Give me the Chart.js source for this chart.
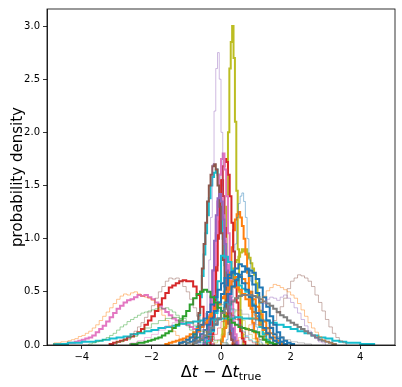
<!DOCTYPE html>
<html>
<head>
<meta charset="utf-8">
<script src="https://cdn.jsdelivr.net/npm/chart.js@4.4.0/dist/chart.umd.min.js"></script>
<style>
  html, body { margin: 0; padding: 0; background: #fff; }
  canvas { display: block; }
</style>
</head>
<body>
<canvas id="chart" width="402" height="387"></canvas>
<script>
// histogram data: lo = first bin edge, bin = bin width, y = densities
const xTicks = [-4, -2, 0, 2, 4];
const yTicks = [0, 0.5, 1.0, 1.5, 2.0, 2.5, 3.0];

// faint histograms
const lavender = { lo: -0.65, bin: 0.05, y: [0.02, 0.05, 0.1, 0.18, 0.3, 0.5, 0.8, 1.2, 1.7, 2.2, 2.6, 2.75, 2.5, 2.0, 1.4, 0.9, 0.55, 0.3, 0.15, 0.07, 0.03] };
const lightBlue = { lo: 0.15, bin: 0.05, y: [0.05, 0.12, 0.25, 0.45, 0.7, 0.95, 1.2, 1.33, 1.4, 1.43, 1.35, 1.2, 1.0, 0.8, 0.6, 0.42, 0.28, 0.17, 0.1, 0.05, 0.02] };
const lightOrangeL = { lo: -4.8, bin: 0.1, y: [0.02, 0.02, 0.03, 0.03, 0.04, 0.05, 0.06, 0.08, 0.09, 0.11, 0.13, 0.16, 0.19, 0.23, 0.27, 0.31, 0.35, 0.39, 0.43, 0.46, 0.48, 0.47, 0.49, 0.5, 0.48, 0.46, 0.45, 0.44, 0.42, 0.38, 0.33, 0.28, 0.23, 0.18, 0.13, 0.09, 0.06, 0.04, 0.02, 0.01] };
const lightOrangeR = { lo: 0.3, bin: 0.1, y: [0.02, 0.04, 0.07, 0.1, 0.14, 0.19, 0.25, 0.32, 0.4, 0.46, 0.51, 0.54, 0.57, 0.56, 0.54, 0.52, 0.5, 0.47, 0.44, 0.39, 0.33, 0.27, 0.21, 0.16, 0.12, 0.08, 0.05, 0.03, 0.02, 0.01] };
const lightBrownR = { lo: 1.0, bin: 0.1, y: [0.03, 0.05, 0.08, 0.12, 0.17, 0.23, 0.3, 0.36, 0.44, 0.53, 0.6, 0.63, 0.66, 0.65, 0.63, 0.6, 0.55, 0.47, 0.4, 0.32, 0.24, 0.17, 0.11, 0.07, 0.04, 0.02] };
const lightBrownL = { lo: -3.2, bin: 0.1, y: [0.01, 0.02, 0.03, 0.04, 0.06, 0.08, 0.1, 0.13, 0.17, 0.21, 0.26, 0.31, 0.37, 0.44, 0.5, 0.55, 0.6, 0.63, 0.62, 0.63, 0.6, 0.55, 0.5, 0.43, 0.35, 0.27, 0.19, 0.12, 0.07, 0.03] };
const lightPurple = { lo: 0.6, bin: 0.1, y: [0.05, 0.09, 0.14, 0.2, 0.27, 0.33, 0.39, 0.43, 0.45, 0.44, 0.42, 0.45, 0.47, 0.44, 0.4, 0.35, 0.3, 0.24, 0.18, 0.13, 0.09, 0.06, 0.03, 0.02] };
const lightGreenA = { lo: -3.8, bin: 0.1, y: [0.01, 0.02, 0.03, 0.04, 0.05, 0.07, 0.09, 0.11, 0.14, 0.17, 0.19, 0.22, 0.24, 0.26, 0.28, 0.3, 0.31, 0.32, 0.33, 0.34, 0.35, 0.34, 0.35, 0.33, 0.31, 0.28, 0.25, 0.22, 0.18, 0.14, 0.1, 0.07, 0.04, 0.02, 0.01] };
const lightGreenB = { lo: -3.0, bin: 0.2, y: [0.03, 0.05, 0.08, 0.12, 0.16, 0.2, 0.23, 0.25, 0.26, 0.25, 0.22, 0.18, 0.13, 0.08, 0.04, 0.02] };
const lightPink = { lo: -2.6, bin: 0.2, y: [0.02, 0.04, 0.07, 0.1, 0.14, 0.18, 0.21, 0.23, 0.22, 0.19, 0.14, 0.09, 0.05, 0.02] };
const lightGray = { lo: -1.0, bin: 0.2, y: [0.02, 0.05, 0.1, 0.17, 0.25, 0.31, 0.34, 0.33, 0.29, 0.24, 0.19, 0.15, 0.11, 0.08, 0.05, 0.03, 0.02, 0.01] };
const lightCyan = { lo: -0.6, bin: 0.1, y: [0.02, 0.05, 0.1, 0.17, 0.25, 0.32, 0.38, 0.4, 0.38, 0.33, 0.26, 0.19, 0.13, 0.08, 0.05, 0.03, 0.02] };
const lightRed = { lo: -0.4, bin: 0.1, y: [0.02, 0.05, 0.1, 0.16, 0.22, 0.27, 0.3, 0.28, 0.24, 0.18, 0.12, 0.07, 0.04, 0.02] };
const lightOlive = { lo: -0.2, bin: 0.1, y: [0.02, 0.05, 0.1, 0.17, 0.25, 0.3, 0.32, 0.29, 0.23, 0.16, 0.1, 0.06, 0.03, 0.01] };

// bold histograms
const gray = { lo: -0.8, bin: 0.1, y: [0.02, 0.04, 0.06, 0.09, 0.12, 0.16, 0.2, 0.25, 0.3, 0.34, 0.38, 0.41, 0.44, 0.46, 0.47, 0.47, 0.47, 0.46, 0.45, 0.43, 0.41, 0.39, 0.37, 0.34, 0.31, 0.28, 0.26, 0.23, 0.21, 0.19, 0.17, 0.15, 0.13, 0.11, 0.09, 0.07, 0.05, 0.04, 0.03, 0.02, 0.01] };
const green = { lo: -2.6, bin: 0.1, y: [0.01, 0.01, 0.02, 0.02, 0.03, 0.04, 0.05, 0.06, 0.07, 0.09, 0.11, 0.13, 0.16, 0.19, 0.23, 0.27, 0.32, 0.38, 0.44, 0.48, 0.5, 0.52, 0.5, 0.45, 0.4, 0.35, 0.31, 0.27, 0.24, 0.21, 0.19, 0.17, 0.16, 0.15, 0.14, 0.13, 0.12, 0.08, 0.05, 0.03, 0.02, 0.01] };
const blueA = { lo: -1.0, bin: 0.1, y: [0.02, 0.03, 0.05, 0.07, 0.1, 0.14, 0.19, 0.25, 0.32, 0.4, 0.48, 0.56, 0.63, 0.69, 0.72, 0.76, 0.74, 0.71, 0.65, 0.57, 0.49, 0.4, 0.31, 0.23, 0.16, 0.1, 0.06, 0.03, 0.01] };
const blueB = { lo: -0.8, bin: 0.1, y: [0.02, 0.03, 0.05, 0.07, 0.1, 0.14, 0.19, 0.25, 0.32, 0.4, 0.48, 0.55, 0.61, 0.66, 0.69, 0.72, 0.7, 0.68, 0.62, 0.54, 0.45, 0.36, 0.27, 0.19, 0.12, 0.07, 0.04, 0.02, 0.01] };
const blueC = { lo: -1.2, bin: 0.1, y: [0.02, 0.03, 0.05, 0.07, 0.1, 0.14, 0.19, 0.25, 0.31, 0.38, 0.45, 0.52, 0.58, 0.63, 0.66, 0.68, 0.67, 0.64, 0.58, 0.52, 0.45, 0.37, 0.3, 0.23, 0.16, 0.11, 0.07, 0.04, 0.02] };
const orangeB = { lo: -1.6, bin: 0.1, y: [0.01, 0.02, 0.03, 0.04, 0.05, 0.06, 0.08, 0.1, 0.12, 0.15, 0.18, 0.21, 0.24, 0.28, 0.33, 0.38, 0.44, 0.5, 0.55, 0.6, 0.64, 0.65, 0.62, 0.58, 0.5, 0.43, 0.36, 0.29, 0.22, 0.16, 0.11, 0.07, 0.04, 0.02, 0.01] };
const orangeC = { lo: -1.2, bin: 0.1, y: [0.02, 0.03, 0.05, 0.07, 0.1, 0.13, 0.17, 0.21, 0.26, 0.3, 0.35, 0.4, 0.45, 0.5, 0.53, 0.55, 0.54, 0.52, 0.48, 0.43, 0.37, 0.31, 0.25, 0.19, 0.14, 0.1, 0.06, 0.04, 0.02, 0.01] };
const cyanWide = { lo: -4.8, bin: 0.2, y: [0.01, 0.01, 0.02, 0.02, 0.03, 0.03, 0.04, 0.05, 0.06, 0.07, 0.08, 0.1, 0.11, 0.13, 0.14, 0.16, 0.17, 0.18, 0.2, 0.21, 0.22, 0.23, 0.24, 0.24, 0.25, 0.25, 0.26, 0.25, 0.25, 0.24, 0.23, 0.21, 0.19, 0.17, 0.15, 0.13, 0.11, 0.09, 0.07, 0.06, 0.04, 0.03, 0.02, 0.02, 0.01, 0.01] };
const cyanMid = { lo: -0.4, bin: 0.1, y: [0.04, 0.13, 0.3, 0.6, 0.84, 0.83, 0.78, 0.7, 0.63, 0.56, 0.53, 0.5, 0.46, 0.38, 0.27, 0.17, 0.1, 0.05, 0.02] };
const redWide = { lo: -3.2, bin: 0.1, y: [0.01, 0.02, 0.03, 0.04, 0.05, 0.07, 0.08, 0.1, 0.12, 0.15, 0.19, 0.23, 0.27, 0.32, 0.38, 0.44, 0.49, 0.54, 0.56, 0.58, 0.6, 0.61, 0.6, 0.6, 0.55, 0.47, 0.36, 0.2, 0.08] };
const pinkWide = { lo: -4.6, bin: 0.1, y: [0.01, 0.01, 0.02, 0.02, 0.03, 0.04, 0.05, 0.06, 0.07, 0.09, 0.12, 0.15, 0.18, 0.22, 0.26, 0.3, 0.34, 0.37, 0.4, 0.42, 0.43, 0.45, 0.47, 0.46, 0.47, 0.45, 0.43, 0.4, 0.37, 0.34, 0.31, 0.28, 0.25, 0.23, 0.21, 0.2, 0.19, 0.17, 0.15, 0.12, 0.08, 0.05, 0.03, 0.01] };
const purple = { lo: -0.5, bin: 0.05, y: [0.02, 0.05, 0.12, 0.25, 0.45, 0.7, 0.98, 1.22, 1.38, 1.42, 1.35, 1.18, 0.95, 0.7, 0.47, 0.28, 0.15, 0.07, 0.03] };
const brown = { lo: -0.8, bin: 0.05, y: [0.03, 0.07, 0.15, 0.3, 0.5, 0.72, 0.95, 1.15, 1.35, 1.5, 1.6, 1.68, 1.7, 1.65, 1.5, 1.3, 1.05, 0.8, 0.55, 0.35, 0.2, 0.1, 0.05, 0.02] };
const pinkA = { lo: -0.45, bin: 0.05, y: [0.03, 0.07, 0.15, 0.28, 0.48, 0.75, 1.05, 1.35, 1.6, 1.75, 1.8, 1.65, 1.4, 1.05, 0.7, 0.42, 0.22, 0.1, 0.04] };
const pinkB = { lo: -0.5, bin: 0.05, y: [0.03, 0.07, 0.15, 0.28, 0.46, 0.7, 0.95, 1.18, 1.35, 1.42, 1.38, 1.22, 1.0, 0.75, 0.5, 0.3, 0.16, 0.08, 0.03] };
const redA = { lo: -0.4, bin: 0.05, y: [0.03, 0.07, 0.15, 0.3, 0.5, 0.75, 1.05, 1.35, 1.55, 1.68, 1.75, 1.72, 1.6, 1.4, 1.15, 0.88, 0.62, 0.4, 0.24, 0.13, 0.06, 0.03] };
const redB = { lo: -0.3, bin: 0.04, y: [0.04, 0.1, 0.22, 0.42, 0.7, 1.0, 1.3, 1.5, 1.55, 1.4, 1.1, 0.75, 0.45, 0.24, 0.11, 0.05] };
const cyanA = { lo: -0.8, bin: 0.05, y: [0.04, 0.09, 0.17, 0.28, 0.45, 0.65, 0.85, 1.05, 1.22, 1.38, 1.5, 1.58, 1.62, 1.65, 1.6, 1.45, 1.25, 1.0, 0.75, 0.52, 0.33, 0.2, 0.11, 0.05, 0.02] };
const orangeA = { lo: 0.0, bin: 0.05, y: [0.03, 0.08, 0.16, 0.3, 0.5, 0.72, 0.92, 1.08, 1.18, 1.23, 1.25, 1.2, 1.12, 1.0, 0.85, 0.68, 0.5, 0.34, 0.21, 0.12, 0.06] };
const oliveB = { lo: 0.0, bin: 0.05, y: [0.05, 0.1, 0.17, 0.26, 0.37, 0.5, 0.62, 0.72, 0.78, 0.8, 0.83, 0.87, 0.9, 0.88, 0.9, 0.86, 0.82, 0.77, 0.72, 0.66, 0.58, 0.45, 0.32, 0.2, 0.11, 0.05, 0.02] };
const oliveA = { lo: 0.0, bin: 0.04, y: [0.05, 0.15, 0.35, 0.75, 1.3, 2.0, 2.6, 2.85, 3.0, 2.7, 2.1, 1.45, 0.9, 0.5, 0.25, 0.1] };

// [histogram, colour, alpha, line width] in drawing order
const styles = [
  [lightGreenA, '#2ca02c', 0.45, 1], [lightGreenB, '#2ca02c', 0.45, 1],
  [lightPink, '#e377c2', 0.45, 1], [lightGray, '#7f7f7f', 0.45, 1],
  [lightCyan, '#17becf', 0.45, 1], [lightRed, '#d62728', 0.45, 1],
  [lightOlive, '#bcbd22', 0.45, 1],
  [lightOrangeL, '#ff7f0e', 0.45, 1], [lightOrangeR, '#ff7f0e', 0.45, 1],
  [lightBrownL, '#8c564b', 0.45, 1], [lightBrownR, '#8c564b', 0.45, 1],
  [lightPurple, '#9467bd', 0.45, 1], [lightBlue, '#1f77b4', 0.45, 1],
  [lavender, '#9467bd', 0.45, 1],
  [gray, '#7f7f7f', 1, 2], [green, '#2ca02c', 1, 2],
  [blueC, '#1f77b4', 1, 2], [blueA, '#1f77b4', 1, 2], [blueB, '#1f77b4', 1, 2],
  [orangeC, '#ff7f0e', 1, 2], [orangeB, '#ff7f0e', 1, 2],
  [cyanWide, '#17becf', 1, 2], [cyanMid, '#17becf', 1, 2],
  [redWide, '#d62728', 1, 2], [pinkWide, '#e377c2', 1, 2],
  [purple, '#9467bd', 1, 2], [brown, '#8c564b', 1, 2],
  [pinkB, '#e377c2', 1, 2], [pinkA, '#e377c2', 1, 2],
  [redB, '#d62728', 1, 2], [redA, '#d62728', 1, 2],
  [cyanA, '#17becf', 1, 2], [orangeA, '#ff7f0e', 1, 2],
  [oliveB, '#bcbd22', 1, 2], [oliveA, '#bcbd22', 1, 2]
];

function hexA(hex, a) {
  const n = parseInt(hex.slice(1), 16);
  return 'rgba(' + (n >> 16) + ',' + ((n >> 8) & 255) + ',' + (n & 255) + ',' + a + ')';
}

function stepPoints(h) {
  const pts = [{ x: h.lo, y: 0 }];
  h.y.forEach((v, i) => pts.push({ x: h.lo + i * h.bin, y: v }));
  pts.push({ x: h.lo + h.y.length * h.bin, y: 0 });
  return pts;
}

const datasets = styles.map(([h, c, a, w]) => ({
  data: stepPoints(h),
  borderColor: hexA(c, a),
  borderWidth: w,
  stepped: true,
  pointRadius: 0,
  fill: false
}));

const FONT = 'DejaVu Sans';

const framePlugin = {
  id: 'frame',
  afterDatasetsDraw(chart) {
    const { ctx, chartArea: a } = chart;
    ctx.save();
    ctx.strokeStyle = '#000';
    ctx.lineWidth = 0.8;
    ctx.strokeRect(a.left, a.top, a.right - a.left, a.bottom - a.top);
    ctx.restore();
  },
  afterDraw(chart) {
    const { ctx, chartArea: a } = chart;
    ctx.save();
    ctx.fillStyle = '#000';
    // y label
    ctx.font = '15px "' + FONT + '"';
    ctx.textAlign = 'center';
    ctx.textBaseline = 'middle';
    ctx.translate(18, (a.top + a.bottom) / 2);
    ctx.rotate(-Math.PI / 2);
    ctx.fillText('probability density', 0, 0);
    ctx.restore();

    // x label: Δt − Δt_true
    ctx.save();
    ctx.fillStyle = '#000';
    ctx.textBaseline = 'alphabetic';
    ctx.textAlign = 'left';
    const parts = [
      ['Δ', '16px "' + FONT + '"', 0],
      ['t', 'oblique 16px "' + FONT + '"', 0],
      [' − ', '16px "' + FONT + '"', 0],
      ['Δ', '16px "' + FONT + '"', 0],
      ['t', 'oblique 16px "' + FONT + '"', 0],
      ['true', '11px "' + FONT + '"', 3]
    ];
    let total = 0;
    parts.forEach(p => { ctx.font = p[1]; total += ctx.measureText(p[0]).width; });
    let x = (a.left + a.right) / 2 - total / 2;
    const base = 377;
    parts.forEach(p => {
      ctx.font = p[1];
      ctx.fillText(p[0], x, base + p[2]);
      x += ctx.measureText(p[0]).width;
    });
    ctx.restore();
  }
};

new Chart(document.getElementById('chart'), {
  type: 'line',
  data: { datasets },
  options: {
    responsive: false,
    animation: false,
    devicePixelRatio: 1,
    layout: { padding: { top: 7, right: 7, left: 0, bottom: 0 } },
    plugins: { legend: { display: false }, tooltip: { enabled: false } },
    elements: { line: { tension: 0 } },
    scales: {
      x: {
        type: 'linear',
        min: -5,
        max: 5,
        afterBuildTicks: s => { s.ticks = xTicks.map(v => ({ value: v })); },
        afterFit: s => { s.height = 42; },
        ticks: {
          color: '#000',
          font: { family: FONT, size: 10 },
          padding: 2,
          maxRotation: 0,
          callback: v => (v < 0 ? '\u2212' + Math.abs(v) : String(v))
        },
        grid: { display: true, drawOnChartArea: false, drawTicks: true, tickLength: 4, color: '#000', lineWidth: 0.8 },
        border: { display: true, color: '#000', width: 0.8 }
      },
      y: {
        min: 0,
        max: 3.16,
        afterBuildTicks: s => { s.ticks = yTicks.map(v => ({ value: v })); },
        afterFit: s => { s.width = 47; },
        ticks: {
          color: '#000',
          font: { family: FONT, size: 10 },
          padding: 3,
          callback: v => v.toFixed(1)
        },
        grid: { display: true, drawOnChartArea: false, drawTicks: true, tickLength: 4, color: '#000', lineWidth: 0.8 },
        border: { display: true, color: '#000', width: 0.8 }
      }
    }
  },
  plugins: [framePlugin]
});
</script>
</body>
</html>
